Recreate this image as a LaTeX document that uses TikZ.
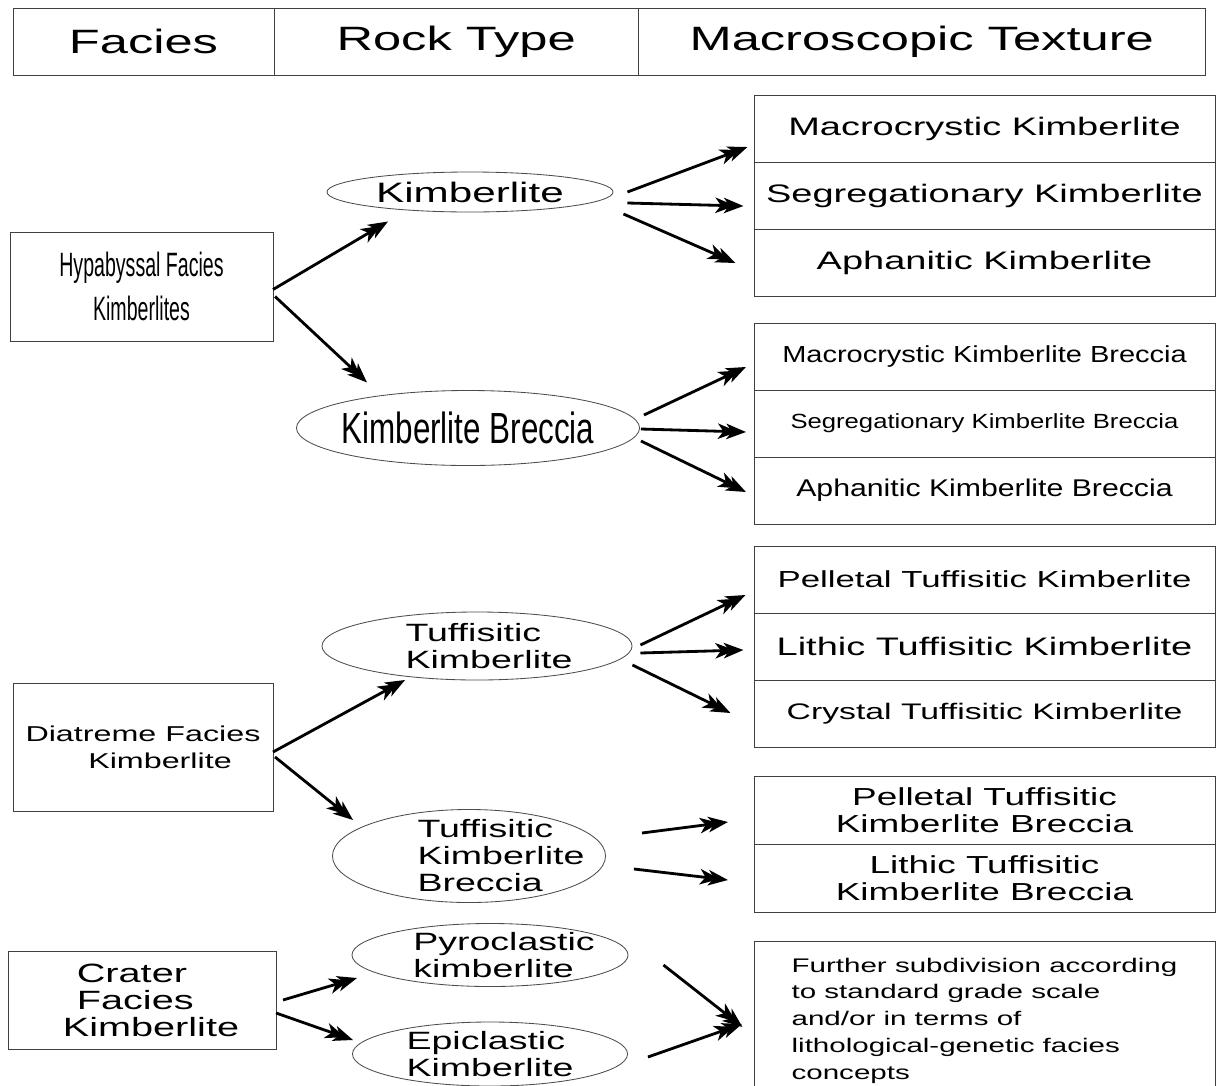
\documentclass[tikz,border=0pt]{standalone}
\usepackage{fontspec}
\setmainfont{Liberation Sans}
\newfontfamily\wfont[FakeStretch=1.5]{Liberation Sans}
\newfontfamily\mfont[FakeStretch=1.25]{Liberation Sans}
\newfontfamily\nfont[FakeStretch=0.72]{Liberation Sans}
\newfontfamily\xfont[FakeStretch=0.58]{Liberation Sans}
\newcommand\wsz[2]{\wfont\fontsize{#1}{#2}\selectfont}
\newcommand\msz[2]{\mfont\fontsize{#1}{#2}\selectfont}
\newcommand\nsz[2]{\nfont\fontsize{#1}{#2}\selectfont}
\newcommand\xsz[2]{\xfont\fontsize{#1}{#2}\selectfont}
\usetikzlibrary{arrows.meta,shapes.geometric,positioning}

\tikzset{
	box/.style		= {draw=black!75, line width=0.6pt, inner sep=0pt, outer sep=0pt},
	head/.style		= {box, minimum height=1.675cm, font=\wsz{24}{28}},
	row/.style		= {box, minimum width=11.525cm, minimum height=1.675cm},
	oval/.style		= {draw=black!70, line width=0.6pt, ellipse, inner sep=0pt},
	arr/.style		= {line width=2pt, -{Stealth[length=14pt,width=11pt,inset=4pt,sep=-8pt]Stealth[length=14pt,width=11pt,inset=4pt]}},
}

\begin{document}
\begin{tikzpicture}[x=0.025cm, y=-0.025cm]
	\useasboundingbox (0,0) rectangle (1218,1086);
	% En-tete
	\node [head, minimum width=6.525cm]				(fac)	at (143.5,41.5)	{Facies};
	\node [head, minimum width=9.1cm, right=0pt of fac]	(rock)			{Rock Type};
	\node [head, minimum width=14.175cm, right=0pt of rock]	(tex)			{Macroscopic Texture};
	% Facies
	\node [box, minimum width=6.575cm, minimum height=2.725cm, align=center, font=\xsz{24}{31}]	(hyp) at (141.5,286.5)	{Hypabyssal Facies\\Kimberlites};
	\node [box, minimum width=6.5cm, minimum height=3.2cm, align=center, font=\wsz{15.3}{19.2}]	(dia) at (143,747)	{Diatreme Facies\\\hspace*{0.85cm}Kimberlite};
	\node [box, minimum width=6.7cm, minimum height=2.45cm, align=left, font=\wsz{18.8}{19.2}]	(cra) at (142,1000)	{\hspace*{0.8cm}Crater\\\hspace*{0.8cm}Facies\\\hspace*{0.45cm}Kimberlite};
	% Types de roche
	\node [oval, minimum width=7.15cm, minimum height=1cm,
		label={[font=\wsz{20}{22}]center:Kimberlite}]			(kim) at (470,192) {};
	\node [oval, minimum width=8.575cm, minimum height=1.875cm,
		label={[font=\nsz{31}{34}]center:Kimberlite Breccia}]		(kbr) at (468,428) {};
	\node [oval, minimum width=7.75cm, minimum height=1.7cm,
		label={[xshift=0.3cm, align=left, font=\wsz{17.8}{19.7}]center:Tuffisitic\\Kimberlite}]	(tk) at (477,646) {};
	\node [oval, minimum width=6.825cm, minimum height=2.325cm,
		label={[xshift=0.8cm, align=left, font=\wsz{17.8}{19.2}]center:Tuffisitic\\Kimberlite\\Breccia}]	(tkb) at (469,856) {};
	\node [oval, minimum width=6.9cm, minimum height=1.575cm,
		label={[xshift=0.35cm, align=left, font=\wsz{17.8}{19.2}]center:Pyroclastic\\kimberlite}]	(pyr) at (490,955) {};
	\node [oval, minimum width=6.875cm, minimum height=1.6cm,
		label={[align=left, font=\wsz{17.8}{19.2}]center:Epiclastic\\Kimberlite}]	(epi) at (490,1054) {};
	% Textures
	\node [row, font=\wsz{18}{20}]				(r1a) at (984.5,128.5)	{Macrocrystic Kimberlite};
	\node [row, font=\wsz{18}{20}, below=0pt of r1a]	(r1b)			{Segregationary Kimberlite};
	\node [row, font=\wsz{18}{20}, below=0pt of r1b]	(r1c)			{Aphanitic Kimberlite};
	\node [row, font=\msz{16.5}{20}]			(r2a) at (984.5,356.5)	{Macrocrystic Kimberlite Breccia};
	\node [row, font=\msz{14.6}{20}, below=0pt of r2a]	(r2b)			{Segregationary Kimberlite Breccia};
	\node [row, font=\msz{17.2}{20}, below=0pt of r2b]	(r2c)			{Aphanitic Kimberlite Breccia};
	\node [row, font=\wsz{16.5}{20}]			(r3a) at (984.5,579.5)	{Pelletal Tuffisitic Kimberlite};
	\node [row, font=\wsz{18}{20}, below=0pt of r3a]	(r3b)			{Lithic Tuffisitic Kimberlite};
	\node [row, font=\wsz{16}{20}, below=0pt of r3b]	(r3c)			{Crystal Tuffisitic Kimberlite};
	\node [row, minimum height=1.7cm, align=center, font=\wsz{17.5}{19.2}]	(r4a) at (984.5,810)	{Pelletal Tuffisitic\\Kimberlite Breccia};
	\node [row, minimum height=1.7cm, align=center, font=\wsz{17.5}{19.2}, below=0pt of r4a]	(r4b)	{Lithic Tuffisitic\\Kimberlite Breccia};
	\node [row, minimum height=3.975cm, align=left, font=\wsz{14}{19}]	(fur) at (984.5,1020.5)
		{Further subdivision according\\to standard grade scale\\and/or in terms of\\lithological-genetic facies\\concepts};
	% Fleches
	\draw [arr] ([shift={(0,3)}]hyp.east)		-- ++(115,-68);
	\draw [arr] ([shift={(2,10)}]hyp.east)		-- ++(92,86);
	\draw [arr] ([shift={(14,0)}]kim.east)		-- ++(120,-45);
	\draw [arr] ([shift={(14,11)}]kim.east)		-- ++(116,3);
	\draw [arr] ([shift={(10,22)}]kim.east)		-- ++(112,49);
	\draw [arr] ([shift={(4,-13)}]kbr.east)		-- ++(102,-48);
	\draw [arr] ([shift={(1,1)}]kbr.east)		-- ++(105,3);
	\draw [arr] ([shift={(1,13)}]kbr.east)		-- ++(105,51);
	\draw [arr] ([shift={(8,-1)}]tk.east)		-- ++(105,-50);
	\draw [arr] ([shift={(8,7)}]tk.east)		-- ++(103,-3);
	\draw [arr] ([shift={(0,19)}]tk.east)		-- ++(98,48);
	\draw [arr] ([shift={(0,5)}]dia.east)		-- ++(132,-72);
	\draw [arr] ([shift={(2,10)}]dia.east)		-- ++(78,63);
	\draw [arr] ([shift={(36,-23)}]tkb.east)	-- ++(86,-11);
	\draw [arr] ([shift={(28,13)}]tkb.east)		-- ++(94,11);
	\draw [arr] ([shift={(7,0)}]cra.east)		-- ++(74,-22);
	\draw [arr] ([shift={(0,13)}]cra.east)		-- ++(77,27);
	\draw [arr] ([shift={(35,10)}]pyr.east)		-- ++(79,62);
	\draw [arr] ([shift={(20,3)}]epi.east)		-- ++(94,-33);
\end{tikzpicture}
\end{document}
